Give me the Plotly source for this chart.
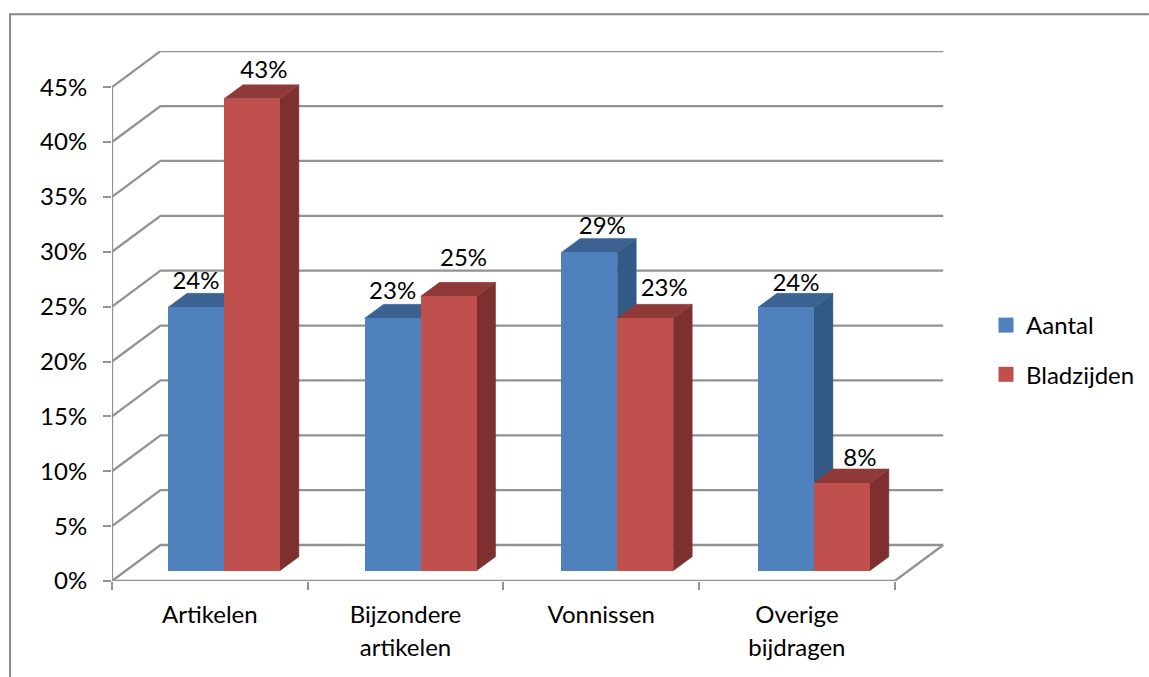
import plotly.graph_objects as go

categories = ["Artikelen", "Bijzondere<br>artikelen", "Vonnissen", "Overige<br>bijdragen"]
aantal = [24, 23, 29, 24]
bladzijden = [43, 25, 23, 8]
y_ticks = [0, 5, 10, 15, 20, 25, 30, 35, 40, 45]

# label placement relative to the front-face centre / top of each bar, in pixels
aantal_label_px = [(0, 24), (0, 25), (13, 24), (10, 22)]
bladzijden_label_px = [(12, 27), (15, 36), (19, 28), (18, 23)]

W, H = 1149, 677
L, R, T, B = 111.5, 944.0, 50.7, 581.0
PX_X = 195.8          # pixels per category
PX_Y = 10.98          # pixels per percent
FONT = "Lato, Carlito, Calibri, sans-serif"
FS = 24
TXT = "#000000"
GRID = "#929292"

wall_dx, wall_dy = 48.5 / PX_X, 36.0 / PX_Y
bar_dx, bar_dy = 19.0 / PX_X, 14.0 / PX_Y
floor = 10.3 / PX_Y
first = 56.0 / PX_X
bar_w = 56.0 / PX_X
pitch = 1.005
n = len(categories)
xmax = (R - L) / PX_X
ymax = (B - T) / PX_Y

fig = go.Figure()

# walls and floor
gx, gy = [], []
for v in y_ticks:
    gx += [0, wall_dx, n + wall_dx, None]
    gy += [v, v + wall_dy, v + wall_dy, None]
gx += [0, 0, None, 0, n, n + wall_dx, None]
gy += [0, y_ticks[-1], None, 0, 0, wall_dy, None]
fig.add_trace(go.Scatter(x=gx, y=gy, mode="lines", line=dict(color=GRID, width=2.3),
                         showlegend=False, hoverinfo="skip", cliponaxis=False, zorder=0))


def add_series(values, name, front, top, side, start, z):
    for i, v in enumerate(values):
        l = start + pitch * i
        r = l + bar_w
        t = v + floor
        fig.add_trace(go.Scatter(
            x=[r, r + bar_dx, r + bar_dx, r, r],
            y=[floor, floor + bar_dy, t + bar_dy, t, floor],
            mode="lines", fill="toself", fillcolor=side, line=dict(color=side, width=0.5),
            showlegend=False, hoverinfo="skip", cliponaxis=False, zorder=z))
        fig.add_trace(go.Scatter(
            x=[l, l + bar_dx, r + bar_dx, r, l],
            y=[t, t + bar_dy, t + bar_dy, t, t],
            mode="lines", fill="toself", fillcolor=top, line=dict(color=top, width=0.5),
            showlegend=False, hoverinfo="skip", cliponaxis=False, zorder=z))
    fig.add_trace(go.Bar(
        x=[start + pitch * i for i in range(n)], y=values, base=[floor] * n,
        width=[bar_w] * n, offset=[0] * n, name=name, legendgroup=name, showlegend=False,
        marker=dict(color=front, line=dict(width=0)),
        zorder=z + 1, cliponaxis=False))
    # legend entry with the reference's 15 px square swatch
    fig.add_trace(go.Scatter(
        x=[None], y=[None], mode="markers", name=name, legendgroup=name,
        marker=dict(color=front, size=15, symbol="square", line=dict(width=0))))


add_series(aantal, "Aantal", "#4F81BD", "#3B6291", "#335A85", first, 1)
add_series(bladzijden, "Bladzijden", "#C0504D", "#8F3A38", "#7D302E", first + bar_w, 3)

# data labels
lx, ly, lt = [], [], []
for start, values, nudges in ((first, aantal, aantal_label_px),
                              (first + bar_w, bladzijden, bladzijden_label_px)):
    for i, v in enumerate(values):
        lx.append(start + pitch * i + bar_w / 2 + nudges[i][0] / PX_X)
        ly.append(v + floor + nudges[i][1] / PX_Y)
        lt.append(f"{v}%")
fig.add_trace(go.Scatter(x=lx, y=ly, text=lt, mode="text", textposition="middle center",
                         textfont=dict(family=FONT, size=FS, color=TXT),
                         showlegend=False, hoverinfo="skip", cliponaxis=False, zorder=6))

tick_text = ["<br>".join(f'<span style="font-size:{FS}px">{p}</span>' for p in c.split("<br>"))
             for c in categories]

fig.update_layout(
    width=W, height=H, autosize=False,
    margin=dict(l=L, r=W - R, t=T, b=H - B, pad=0),
    paper_bgcolor="white", plot_bgcolor="white",
    barmode="overlay", bargap=0,
    font=dict(family=FONT, size=FS, color=TXT),
    xaxis=dict(range=[0, xmax], tickmode="array", tickvals=[i + 0.5 for i in range(n)],
               ticktext=tick_text, ticks="", showgrid=False, zeroline=False, showline=False,
               tickfont=dict(family=FONT, size=25.4, color=TXT), ticklabelstandoff=16,
               tickangle=0, automargin=False,
               minor=dict(tickmode="array", tickvals=list(range(n + 1)), ticks="outside",
                          ticklen=8, tickwidth=2, tickcolor=GRID, showgrid=False)),
    yaxis=dict(range=[0, ymax], tickmode="array", tickvals=y_ticks,
               ticktext=[f"{v}%" for v in y_ticks], ticks="outside", ticklen=8, tickwidth=2,
               tickcolor=GRID, showgrid=False, zeroline=False, showline=False,
               tickfont=dict(family=FONT, size=FS, color=TXT), ticklabelstandoff=11,
               automargin=False),
    legend=dict(xref="container", yref="container", x=986 / W, y=1 - 350 / H,
                xanchor="left", yanchor="middle",
                font=dict(family=FONT, size=FS, color=TXT), tracegroupgap=15,
                itemwidth=30, bgcolor="rgba(0,0,0,0)", traceorder="grouped"),
    shapes=[dict(type="path", xref="paper", yref="paper", line=dict(color="#868686", width=2),
                 path=f"M {(9.5 - L) / (R - L)} {(B - H) / (B - T)} "
                      f"L {(9.5 - L) / (R - L)} {(B - 14) / (B - T)} "
                      f"L {(W - L) / (R - L)} {(B - 14) / (B - T)}")],
)

fig.write_html("out.html", config=dict(displayModeBar=False),
               post_script="document.body.style.margin='0';document.body.style.overflow='hidden';")
